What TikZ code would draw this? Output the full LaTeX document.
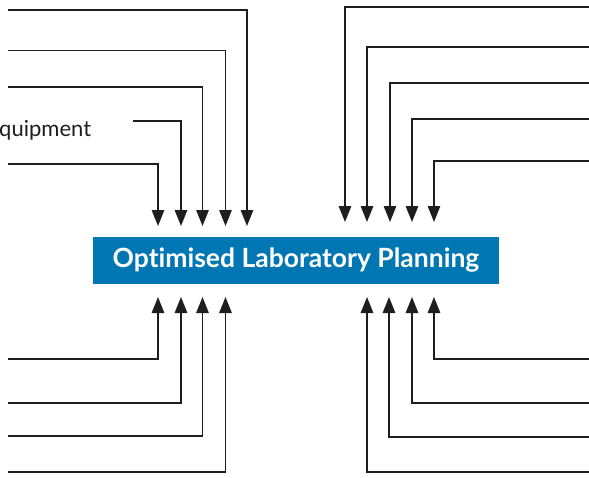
\documentclass[tikz,border=0pt]{standalone}
\usepackage{fontspec}
\setmainfont{Lato}[Ligatures=NoCommon]
\usetikzlibrary{arrows.meta}
\definecolor{boxblue}{RGB}{0,119,179}
\definecolor{linegray}{RGB}{30,30,32}
\tikzset{
  conn/.style={draw=linegray, line width=1.3pt, -{Triangle[width=12.5pt,length=16pt]}},
  mainbox/.style={fill=boxblue, text=white, inner sep=0pt, minimum width=406pt, minimum height=47pt,
    font=\fontsize{26.5}{30}\selectfont\bfseries},
  lbl/.style={text=linegray, inner sep=0pt, font=\fontsize{22}{26}\selectfont}
}
\begin{document}
\begin{tikzpicture}[x=1pt,y=-1pt]
\useasboundingbox (0,0) rectangle (589,477);
\node[mainbox] (main) at (296,260.5) {\raisebox{-3pt}{Optimised Laboratory Planning}};
\node[lbl, anchor=west] (eq) at (-1,130) {quipment};
% top-left sources
\coordinate (a1) at (8,10);   \coordinate (a1t) at (247,226);
\coordinate (a2) at (8,50.5); \coordinate (a2t) at (225.5,226);
\coordinate (a3) at (8,87);   \coordinate (a3t) at (202.5,226);
\coordinate (a4) at (133,121);\coordinate (a4t) at (181,226);
\coordinate (a5) at (8,164);  \coordinate (a5t) at (158,226);
\foreach \i in {1,...,5} {\draw[conn] (a\i) -| (a\i t);}
% top-right sources
\coordinate (b1) at (589,7);   \coordinate (b1t) at (345,222);
\coordinate (b2) at (589,47);  \coordinate (b2t) at (367,222);
\coordinate (b3) at (589,83);  \coordinate (b3t) at (390,222);
\coordinate (b4) at (589,119); \coordinate (b4t) at (412,222);
\coordinate (b5) at (589,161); \coordinate (b5t) at (434,222);
\foreach \i in {1,...,5} {\draw[conn] (b\i) -| (b\i t);}
% bottom-left sources
\coordinate (c1) at (8,359); \coordinate (c1t) at (158,297);
\coordinate (c2) at (8,403); \coordinate (c2t) at (181,297);
\coordinate (c3) at (8,436); \coordinate (c3t) at (202.5,297);
\coordinate (c4) at (8,472); \coordinate (c4t) at (225.5,297);
\foreach \i in {1,...,4} {\draw[conn] (c\i) -| (c\i t);}
% bottom-right sources
\coordinate (d1) at (589,359); \coordinate (d1t) at (434,297);
\coordinate (d2) at (589,403); \coordinate (d2t) at (412,297);
\coordinate (d3) at (589,437); \coordinate (d3t) at (389,297);
\coordinate (d4) at (589,472); \coordinate (d4t) at (367,297);
\foreach \i in {1,...,4} {\draw[conn] (d\i) -| (d\i t);}
\end{tikzpicture}
\end{document}
